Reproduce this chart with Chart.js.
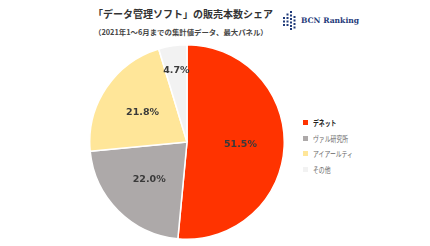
<!DOCTYPE html>
<html>
<head>
<meta charset="utf-8">
<script src="https://cdn.jsdelivr.net/npm/chart.js@4"></script>
<style>
  body { margin: 0; width: 430px; height: 246px; background: #fff; position: relative; overflow: hidden; font-family: "Noto Sans CJK JP", sans-serif; }
  #title { position: absolute; left: 93px; top: 7px; font-size: 10px; font-weight: bold; color: #333; white-space: nowrap; line-height: 14px; }
  #subtitle { position: absolute; left: 94px; top: 26px; font-size: 7.4px; font-weight: bold; color: #444; white-space: nowrap; line-height: 12px; }
  #logo { position: absolute; left: 283px; top: 11px; display: flex; align-items: center; gap: 5px; }
  #logo .txt { font-family: "DejaVu Serif", serif; font-weight: bold; font-size: 7.6px; color: #1f3a7a; }
  #chartBox { position: absolute; left: 88px; top: 43px; width: 198px; height: 198px; }
  #legend { position: absolute; left: 303px; top: 115px; font-size: 7.5px; color: #666; }
  #legend .item { display: flex; align-items: center; gap: 5px; height: 15.6px; }
  #legend .sw { width: 5px; height: 5px; }
  #legend span { display: inline-block; transform: scaleX(0.78); transform-origin: left center; white-space: nowrap; }
</style>
</head>
<body>
<div id="title">「データ管理ソフト」の販売本数シェア</div>
<div id="subtitle">（2021年1～6月までの集計値データ、最大パネル）</div>
<div id="logo">
  <svg width="13" height="19" viewBox="0 0 13 19">
    <g fill="#1f3a7a">
      <rect x="0" y="6" width="2" height="2"/><rect x="0" y="9.5" width="2" height="2"/><rect x="0" y="13" width="2" height="2"/>
      <rect x="3.5" y="2.5" width="2" height="2"/><rect x="3.5" y="6" width="2" height="2"/><rect x="3.5" y="9.5" width="2" height="2"/><rect x="3.5" y="13" width="2" height="2"/>
      <rect x="7" y="0" width="2" height="2"/><rect x="7" y="3.5" width="2" height="2"/><rect x="7" y="7" width="2" height="2"/><rect x="7" y="10.5" width="2" height="2"/><rect x="7" y="14" width="2" height="2"/><rect x="7" y="17" width="2" height="2"/>
      <rect x="10.5" y="5" width="2" height="2"/><rect x="10.5" y="8.5" width="2" height="2"/><rect x="10.5" y="12" width="2" height="2"/><rect x="10.5" y="15.5" width="2" height="2"/>
    </g>
  </svg>
  <span class="txt">BCN Ranking</span>
</div>
<div id="chartBox"><canvas id="pie"></canvas></div>
<div id="legend"></div>

<script>
const vendors = ['デネット', 'ヴァル研究所', 'アイアールティ', 'その他'];
const shares = [51.5, 22.0, 21.8, 4.7];
const sliceColors = ['#ff3300', '#ada9a9', '#ffe699', '#f2f2f2'];

// percent labels inside the slices
const sliceLabels = {
    id: 'sliceLabels',
    afterDatasetsDraw(chart) {
        const ctx = chart.ctx;
        const meta = chart.getDatasetMeta(0);
        ctx.save();
        ctx.font = 'bold 9.5px Verdana, "DejaVu Sans", sans-serif';
        ctx.fillStyle = '#3a3a3a';
        ctx.textAlign = 'center';
        ctx.textBaseline = 'middle';
        meta.data.forEach((arc, i) => {
            const angle = (arc.startAngle + arc.endAngle) / 2;
            const k = shares[i] < 10 ? 0.74 : 0.55;
            const x = arc.x + Math.cos(angle) * arc.outerRadius * k;
            const y = arc.y + Math.sin(angle) * arc.outerRadius * k;
            ctx.fillText(shares[i].toFixed(1) + '%', x, y);
        });
        ctx.restore();
    }
};

const chart = new Chart(document.getElementById('pie'), {
    type: 'pie',
    data: {
        labels: vendors,
        datasets: [{
            data: shares,
            backgroundColor: sliceColors,
            borderColor: '#ffffff',
            borderWidth: 1.5
        }]
    },
    options: {
        responsive: true,
        maintainAspectRatio: false,
        animation: false,
        layout: { padding: 1 },
        plugins: {
            legend: { display: false },
            tooltip: { enabled: false }
        }
    },
    plugins: [sliceLabels]
});

// legend on the right
document.getElementById('legend').innerHTML = vendors.map((name, i) => `
    <div class="item">
        <div class="sw" style="background:${sliceColors[i]}"></div>
        <span${i === 0 ? ' style="color:#222;font-weight:bold"' : ''}>${name}</span>
    </div>`).join('');
</script>
</body>
</html>
